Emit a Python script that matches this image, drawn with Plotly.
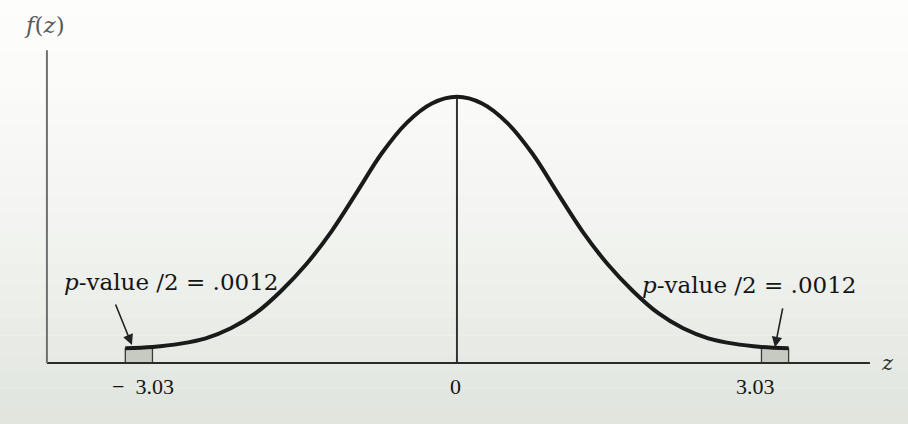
import plotly.graph_objects as go

# Density curve as drawn in the figure (right half; the left half mirrors it)
z_half = [0, 0.25, 0.5, 0.75, 1.0, 1.25, 1.5, 1.75, 2.0, 2.25, 2.5, 2.75, 3.03, 3.3]
f_half = [0.399, 0.389, 0.360, 0.314, 0.255, 0.197, 0.148, 0.108, 0.075, 0.052,
          0.037, 0.029, 0.024, 0.022]

z_crit = 3.03
tick_vals = [-3.03, 0, 3.03]
tick_text = ["\u2212  3.03", "0", "3.03"]
tick_shift = [-9, -1, -6]
tail_label = "<i>p</i>-value /2 = .0012"

# Full symmetric curve
z_curve = [-z for z in reversed(z_half[1:])] + z_half
f_curve = list(reversed(f_half[1:])) + f_half

# Rejection tails beyond +/- z_crit
tail_z = [z for z in z_half if z >= z_crit]
tail_f = [f for z, f in zip(z_half, f_half) if z >= z_crit]

INK = "#1a1a1a"
SERIF = "Liberation Serif, Times New Roman, serif"
WIDE_SERIF = "DejaVu Serif, serif"

fig = go.Figure()

for sign in (1, -1):
    xs = [sign * tail_z[0]] + [sign * z for z in tail_z] + [sign * tail_z[-1]]
    ys = [0] + tail_f + [0]
    fig.add_trace(go.Scatter(
        x=xs, y=ys, mode="lines", fill="toself",
        fillcolor="#c6cac1", line=dict(color="#3a3a3a", width=1.3),
        hoverinfo="skip", showlegend=False,
    ))

# Vertical line at the mean
fig.add_trace(go.Scatter(
    x=[0, 0], y=[0, f_half[0]], mode="lines",
    line=dict(color="#333333", width=2), hoverinfo="skip", showlegend=False,
))

# Density curve
fig.add_trace(go.Scatter(
    x=z_curve, y=f_curve, mode="lines",
    line=dict(color=INK, width=4, shape="spline", smoothing=1.0),
    hoverinfo="skip", showlegend=False,
))

shapes = []
# soft paper tint, lighter at top and greyer toward the bottom
n_bands = 24
for i in range(n_bands):
    t = i / (n_bands - 1)
    r = int(253 - 28 * t ** 1.6)
    g = int(253 - 24 * t ** 1.6)
    b = int(252 - 30 * t ** 1.6)
    shapes.append(dict(
        type="rect", xref="paper", yref="paper", layer="below",
        x0=0, x1=1, y0=1 - (i + 1) / n_bands, y1=1 - i / n_bands,
        fillcolor=f"rgb({r},{g},{b})", line=dict(width=0),
    ))

# horizontal z axis and vertical f(z) axis
shapes.append(dict(type="line", xref="x", yref="y", x0=-4.08, x1=4.109, y0=0, y1=0,
                   line=dict(color="#2a2a2a", width=2)))
shapes.append(dict(type="line", xref="x", yref="y", x0=-4.08, x1=-4.08, y0=0, y1=0.469,
                   line=dict(color="#707070", width=2)))

annotations = []
for v, t, s in zip(tick_vals, tick_text, tick_shift):
    annotations.append(dict(
        x=v, y=-0.036, xref="x", yref="y", text=t, showarrow=False,
        xanchor="center", yanchor="middle", xshift=s,
        font=dict(family=SERIF, size=22, color="#151515"),
    ))

# tail labels
for x0, y0 in ((-3.93, 0.121), (1.821, 0.117)):
    annotations.append(dict(
        x=x0, y=y0, xref="x", yref="y", text=tail_label, showarrow=False,
        xanchor="left", yanchor="middle",
        font=dict(family=WIDE_SERIF, size=23, color="#151515"),
    ))

# arrows pointing to the shaded tails
for tip, tail in (((-3.234, 0.027), (-3.403, 0.090)), ((3.164, 0.0235), (3.244, 0.084))):
    annotations.append(dict(
        x=tip[0], y=tip[1], ax=tail[0], ay=tail[1],
        xref="x", yref="y", axref="x", ayref="y", text="",
        showarrow=True, arrowhead=2, arrowsize=1.3, arrowwidth=1.6,
        arrowcolor="#222222", standoff=0,
    ))

# axis titles
annotations.append(dict(
    x=-4.109, y=0.507, xref="x", yref="y", text="<i>f</i>(<i>z</i>)",
    showarrow=False, xanchor="center", yanchor="middle",
    font=dict(family=WIDE_SERIF, size=23, color="#5a5a5a"),
))
annotations.append(dict(
    x=4.279, y=0.0, xref="x", yref="y", text="<i>z</i>",
    showarrow=False, xanchor="center", yanchor="middle",
    font=dict(family=WIDE_SERIF, size=21, color="#2a2a2a"),
))

fig.update_layout(
    width=908, height=424,
    margin=dict(l=0, r=0, t=0, b=0),
    paper_bgcolor="#fbfbfa", plot_bgcolor="rgba(0,0,0,0)",
    shapes=shapes, annotations=annotations,
    xaxis=dict(range=[-4.547, 4.488], visible=False, fixedrange=True),
    yaxis=dict(range=[-0.0915, 0.5442], visible=False, fixedrange=True),
    showlegend=False,
)

fig.write_html("out.html")
